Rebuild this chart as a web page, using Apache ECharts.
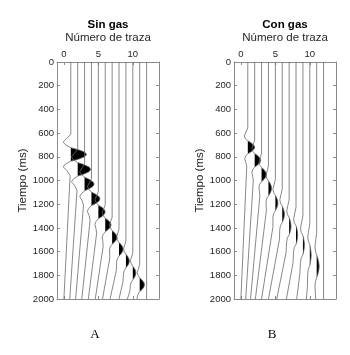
<!DOCTYPE html>
<html>
<head>
<meta charset="utf-8">
<script src="https://cdn.jsdelivr.net/npm/echarts@6.0.0/dist/echarts.min.js"></script>
<style>
    body { margin: 0; background: #fff; }
    #chart { width: 350px; height: 355px; }
</style>
</head>
<body>
<div id="chart"></div>
<script>
// trace numbers (x position of each trace) and axis ticks
var traceNumbers = [1, 2, 3, 4, 5, 6, 7, 8, 9, 10, 11, 12];
var xTicks = [0, 5, 10];

// each trace: [time (ms), amplitude in trace units]
var sinGasTraces = [
    [[0,0],[610,0],[640,-0.5],[675,-1.1],[700,-0.75],[723,0],[740,1.1],[760,2.0],[780,2.3],[800,2.0],[820,1.1],[837,0],[860,-0.75],[885,-1.1],[920,-0.5],[960,-0.1],[2000,-1.0]],
    [[0,0],[736,0],[770,-0.45],[801,-0.9],[826,-0.6],[849,0],[866,0.9],[886,1.65],[906,1.9],[926,1.65],[946,0.9],[963,0],[986,-0.6],[1011,-0.9],[1045,-0.4],[1085,-0.1],[2000,-1.15]],
    [[0,0],[860,0],[894,-0.35],[925,-0.7],[950,-0.45],[973,0],[990,0.66],[1010,1.2],[1030,1.4],[1050,1.2],[1070,0.66],[1087,0],[1110,-0.45],[1135,-0.7],[1170,-0.35],[1210,-0.15],[2000,-1.3]],
    [[0,0],[985,0],[1019,-0.3],[1050,-0.6],[1075,-0.4],[1098,0],[1115,0.6],[1135,1.08],[1155,1.25],[1175,1.08],[1195,0.6],[1212,0],[1235,-0.4],[1260,-0.6],[1295,-0.35],[1335,-0.2],[2000,-1.4]],
    [[0,0],[1095,0],[1129,-0.25],[1160,-0.5],[1185,-0.33],[1208,0],[1225,0.48],[1245,0.86],[1265,1.0],[1285,0.86],[1305,0.48],[1322,0],[1345,-0.33],[1370,-0.5],[1405,-0.35],[1445,-0.25],[2000,-1.45]],
    [[0,0],[1205,0],[1239,-0.22],[1270,-0.45],[1295,-0.3],[1318,0],[1335,0.4],[1355,0.73],[1375,0.85],[1395,0.73],[1415,0.4],[1432,0],[1455,-0.3],[1480,-0.45],[1515,-0.35],[1555,-0.3],[2000,-1.45]],
    [[0,0],[1310,0],[1344,-0.2],[1375,-0.4],[1400,-0.27],[1423,0],[1440,0.35],[1460,0.62],[1480,0.72],[1500,0.62],[1520,0.35],[1537,0],[1560,-0.27],[1585,-0.4],[1620,-0.35],[1660,-0.35],[2000,-1.4]],
    [[0,0],[1410,0],[1444,-0.18],[1475,-0.35],[1500,-0.24],[1523,0],[1540,0.29],[1560,0.52],[1580,0.6],[1600,0.52],[1620,0.29],[1637,0],[1660,-0.24],[1685,-0.35],[1720,-0.36],[1760,-0.4],[2000,-1.3]],
    [[0,0],[1510,0],[1544,-0.18],[1575,-0.35],[1600,-0.24],[1623,0],[1640,0.24],[1660,0.43],[1680,0.5],[1700,0.43],[1720,0.24],[1737,0],[1760,-0.24],[1785,-0.35],[1820,-0.38],[1860,-0.45],[2000,-1.0]],
    [[0,0],[1610,0],[1644,-0.18],[1675,-0.35],[1700,-0.24],[1723,0],[1740,0.22],[1760,0.39],[1780,0.45],[1800,0.39],[1820,0.22],[1837,0],[1860,-0.24],[1885,-0.35],[1920,-0.4],[1960,-0.55],[2000,-0.8]],
    [[0,0],[1710,0],[1744,-0.18],[1775,-0.35],[1800,-0.24],[1823,0],[1840,0.34],[1860,0.6],[1880,0.7],[1900,0.6],[1920,0.34],[1937,0],[1960,-0.24],[1985,-0.35],[2000,-0.4]],
    [[0,0],[2000,0]]
];

var conGasTraces = [
    [[0,0],[555,0],[590,-0.25],[624,-0.5],[648,-0.35],[665,0],[682,0.48],[702,0.87],[720,1.0],[738,0.87],[758,0.48],[775,0],[794,-0.3],[816,-0.45],[845,-0.3],[880,-0.15],[2000,-1.0]],
    [[0,0],[660,0],[695,-0.2],[730,-0.4],[755,-0.28],[773,0],[790,0.42],[811,0.76],[830,0.87],[849,0.76],[870,0.42],[887,0],[906,-0.28],[930,-0.4],[965,-0.3],[1000,-0.2],[2000,-1.3]],
    [[0,0],[770,0],[808,-0.19],[845,-0.38],[870,-0.27],[890,0],[908,0.34],[930,0.61],[950,0.7],[970,0.61],[992,0.34],[1010,0],[1030,-0.27],[1055,-0.38],[1090,-0.32],[1130,-0.25],[2000,-1.6]],
    [[0,0],[877,0],[917,-0.18],[956,-0.35],[982,-0.25],[1003,0],[1022,0.22],[1045,0.39],[1066,0.45],[1087,0.39],[1110,0.22],[1129,0],[1150,-0.25],[1176,-0.35],[1215,-0.33],[1255,-0.3],[2000,-1.9]],
    [[0,0],[992,0],[1034,-0.18],[1075,-0.35],[1102,-0.25],[1124,0],[1144,0.18],[1168,0.33],[1190,0.38],[1212,0.33],[1236,0.18],[1256,0],[1278,-0.25],[1305,-0.35],[1345,-0.35],[1390,-0.35],[2000,-2.0]],
    [[0,0],[1075,0],[1119,-0.18],[1162,-0.35],[1191,-0.25],[1215,0],[1236,0.15],[1262,0.28],[1285,0.32],[1308,0.28],[1334,0.15],[1355,0],[1379,-0.25],[1408,-0.35],[1450,-0.38],[1495,-0.4],[2000,-2.0]],
    [[0,0],[1163,0],[1209,-0.18],[1255,-0.35],[1286,-0.25],[1311,0],[1333,0.13],[1360,0.24],[1385,0.28],[1410,0.24],[1437,0.13],[1459,0],[1484,-0.25],[1515,-0.35],[1560,-0.4],[1610,-0.45],[2000,-1.8]],
    [[0,0],[1226,0],[1275,-0.18],[1324,-0.35],[1356,-0.25],[1382,0],[1405,0.12],[1434,0.21],[1460,0.24],[1486,0.21],[1515,0.12],[1538,0],[1564,-0.25],[1597,-0.35],[1650,-0.4],[1700,-0.45],[2000,-1.4]],
    [[0,0],[1299,0],[1351,-0.18],[1402,-0.35],[1436,-0.25],[1463,0],[1488,0.1],[1518,0.19],[1545,0.22],[1572,0.19],[1602,0.1],[1627,0],[1654,-0.25],[1689,-0.35],[1740,-0.4],[1790,-0.45],[2000,-0.9]],
    [[0,0],[1366,0],[1421,-0.15],[1476,-0.3],[1512,-0.21],[1542,0],[1568,0.09],[1601,0.17],[1630,0.2],[1659,0.17],[1692,0.09],[1718,0],[1748,-0.21],[1784,-0.3],[1840,-0.33],[1900,-0.35],[2000,-0.5]],
    [[0,0],[1440,0],[1500,-0.13],[1559,-0.25],[1598,-0.18],[1630,0],[1659,0.17],[1694,0.31],[1725,0.36],[1756,0.31],[1791,0.17],[1820,0],[1852,-0.18],[1891,-0.25],[1945,-0.2],[2000,-0.15]],
    [[0,0],[2000,0]]
];

var FONT = "'Liberation Sans', Arial, sans-serif";
var AXIS_GREY = '#8c8c8c';
var TEXT_GREY = '#262626';

// split a trace into the parts where it swings to the positive side (filled black)
function positiveRuns(knots) {
    var runs = [];
    var cur = null;
    for (var i = 0; i < knots.length; i++) {
        var t = knots[i][0], a = knots[i][1];
        if (i > 0) {
            var t0 = knots[i - 1][0], a0 = knots[i - 1][1];
            if ((a0 > 0) !== (a > 0) && a0 !== a) {
                var tc = t0 + (t - t0) * (0 - a0) / (a - a0);
                if (a > 0) {
                    cur = [[tc, 0]];
                } else if (cur) {
                    cur.push([tc, 0]);
                    runs.push(cur);
                    cur = null;
                }
            }
        }
        if (a > 0) {
            if (!cur) { cur = [[t, 0]]; }
            cur.push([t, a]);
        }
    }
    if (cur) {
        cur.push([cur[cur.length - 1][0], 0]);
        runs.push(cur);
    }
    return runs;
}

function wiggleRender(traces) {
    return function (params, api) {
        var k = api.value(0);
        var knots = traces[params.dataIndex];
        var children = positiveRuns(knots).map(function (run) {
            return {
                type: 'polygon',
                shape: { points: run.map(function (p) { return api.coord([k + p[1], p[0]]); }) },
                style: { fill: '#000' }
            };
        });
        children.push({
            type: 'polyline',
            shape: { points: knots.map(function (p) { return api.coord([k + p[1], p[0]]); }) },
            style: { stroke: '#6a6a6a', lineWidth: 0.8, fill: null }
        });
        return { type: 'group', children: children };
    };
}

function topAxis(gridIndex) {
    return {
        gridIndex: gridIndex, type: 'value', position: 'top', min: -1, max: 13.8,
        name: 'Número de traza', nameLocation: 'middle', nameGap: 13,
        nameTextStyle: { fontSize: 11.5, color: TEXT_GREY, fontFamily: FONT },
        axisLine: { onZero: false, lineStyle: { color: AXIS_GREY, width: 1 } },
        axisTick: { inside: true, length: 3, customValues: xTicks, lineStyle: { color: AXIS_GREY } },
        axisLabel: { customValues: xTicks, fontSize: 9.5, margin: 3, color: TEXT_GREY, fontFamily: FONT },
        splitLine: { show: false }
    };
}
function bottomAxis(gridIndex) {
    return {
        gridIndex: gridIndex, type: 'value', position: 'bottom', min: -1, max: 13.8,
        axisLine: { onZero: false, lineStyle: { color: AXIS_GREY, width: 1 } },
        axisTick: { inside: true, length: 3, customValues: xTicks, lineStyle: { color: AXIS_GREY } },
        axisLabel: { show: false },
        splitLine: { show: false }
    };
}
function leftAxis(gridIndex) {
    return {
        gridIndex: gridIndex, type: 'value', position: 'left', inverse: true,
        min: 0, max: 2000, interval: 200,
        name: 'Tiempo (ms)', nameLocation: 'middle', nameGap: 27, nameRotate: 90,
        nameTextStyle: { fontSize: 11.5, color: TEXT_GREY, fontFamily: FONT },
        axisLine: { onZero: false, lineStyle: { color: AXIS_GREY, width: 1 } },
        axisTick: { inside: true, length: 3, lineStyle: { color: AXIS_GREY } },
        axisLabel: { fontSize: 9.5, margin: 3, color: TEXT_GREY, fontFamily: FONT,
            formatter: function (v) { return String(v); } },
        splitLine: { show: false }
    };
}
function rightAxis(gridIndex) {
    return {
        gridIndex: gridIndex, type: 'value', position: 'right', inverse: true,
        min: 0, max: 2000, interval: 200,
        axisLine: { onZero: false, lineStyle: { color: AXIS_GREY, width: 1 } },
        axisTick: { inside: true, length: 3, lineStyle: { color: AXIS_GREY } },
        axisLabel: { show: false },
        splitLine: { show: false }
    };
}

var chart = echarts.init(document.getElementById('chart'));

var option = {
    animation: false,
    backgroundColor: '#fff',
    grid: [
        { left: 57, top: 62, width: 102, height: 237 },
        { left: 234, top: 62, width: 102, height: 237 }
    ],
    xAxis: [topAxis(0), bottomAxis(0), topAxis(1), bottomAxis(1)],
    yAxis: [leftAxis(0), rightAxis(0), leftAxis(1), rightAxis(1)],
    graphic: [
        { type: 'text', x: 108, y: 25, style: { text: 'Sin gas', textAlign: 'center', textVerticalAlign: 'middle', font: 'bold 11.5px ' + FONT, fill: '#000' } },
        { type: 'text', x: 285, y: 25, style: { text: 'Con gas', textAlign: 'center', textVerticalAlign: 'middle', font: 'bold 11.5px ' + FONT, fill: '#000' } },
        { type: 'text', x: 95, y: 335, style: { text: 'A', textAlign: 'center', textVerticalAlign: 'middle', font: "13px 'Liberation Serif', 'DejaVu Serif', serif", fill: '#000' } },
        { type: 'text', x: 272, y: 335, style: { text: 'B', textAlign: 'center', textVerticalAlign: 'middle', font: "13px 'Liberation Serif', 'DejaVu Serif', serif", fill: '#000' } }
    ],
    series: [
        {
            name: 'Sin gas', type: 'custom', xAxisIndex: 0, yAxisIndex: 0, silent: true,
            data: traceNumbers.map(function (n) { return [n]; }),
            renderItem: wiggleRender(sinGasTraces)
        },
        {
            name: 'Con gas', type: 'custom', xAxisIndex: 2, yAxisIndex: 2, silent: true,
            data: traceNumbers.map(function (n) { return [n]; }),
            renderItem: wiggleRender(conGasTraces)
        }
    ]
};

chart.setOption(option);
</script>
</body>
</html>
